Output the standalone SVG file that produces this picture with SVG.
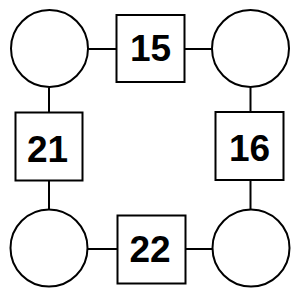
<svg xmlns="http://www.w3.org/2000/svg" width="300" height="300" viewBox="0 0 300 300">
<style>
.n{fill:#fff;stroke:#000;stroke-width:2}
.e{stroke:#000;stroke-width:2;fill:none}
.t{font-family:"Liberation Sans",Arial,sans-serif;font-weight:bold;font-size:37px;text-anchor:middle;fill:#000}
</style>
<rect width="300" height="300" fill="#fff"/>
<g id="connectors">
<line class="e" x1="88.5" y1="49" x2="116.5" y2="49"/>
<line class="e" x1="184.5" y1="49" x2="212" y2="49"/>
<line class="e" x1="49" y1="87.5" x2="49" y2="112.5"/>
<line class="e" x1="250.5" y1="87.5" x2="250.5" y2="112"/>
<line class="e" x1="49" y1="180.5" x2="49" y2="209"/>
<line class="e" x1="250.5" y1="180" x2="250.5" y2="209.5"/>
<line class="e" x1="88" y1="249" x2="117.5" y2="249"/>
<line class="e" x1="185.5" y1="249" x2="212.5" y2="249"/>
</g>
<g id="c1"><circle class="n" cx="49.5" cy="48.5" r="38.5"/></g>
<g id="c2"><circle class="n" cx="250.5" cy="48.5" r="38.5"/></g>
<g id="c3"><circle class="n" cx="49" cy="248" r="38.5"/></g>
<g id="c4"><circle class="n" cx="251" cy="248" r="38.5"/></g>
<g id="s15"><rect class="n" x="116.5" y="15" width="68" height="67"/><text class="t" x="150.5" y="61">15</text></g>
<g id="s21"><rect class="n" x="15.5" y="112.5" width="67" height="68"/><text class="t" x="47.5" y="161.5">21</text></g>
<g id="s16"><rect class="n" x="215.5" y="112" width="68" height="68"/><text class="t" x="249.5" y="160.5">16</text></g>
<g id="s22"><rect class="n" x="117.5" y="215.5" width="68" height="68"/><text class="t" x="150" y="262">22</text></g>
</svg>
